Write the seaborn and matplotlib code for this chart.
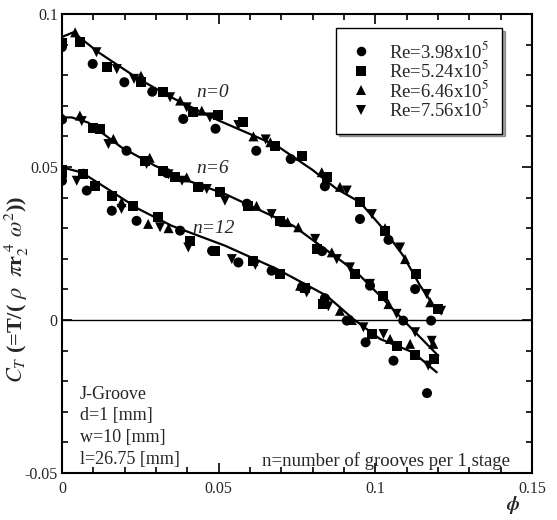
import matplotlib
matplotlib.use("Agg")
import matplotlib.pyplot as plt
import seaborn as sns
import pandas as pd
from matplotlib.ticker import MultipleLocator, FixedLocator, FuncFormatter

# ---- measured thrust coefficient, grouped by groove count n and Reynolds number ----
re_labels = ["Re=3.98x10$^5$", "Re=5.24x10$^5$", "Re=6.46x10$^5$", "Re=7.56x10$^5$"]

# n = 0
n0_re1_phi = [0.0, 0.0098, 0.0199, 0.0288, 0.0387, 0.0490, 0.0620, 0.0730, 0.0839, 0.0951, 0.1042, 0.1127, 0.1178]
n0_re1_ct = [0.0892, 0.0837, 0.0777, 0.0746, 0.0657, 0.0625, 0.0553, 0.0526, 0.0437, 0.0330, 0.0262, 0.0101, -0.0002]
n0_re2_phi = [0.0, 0.0057, 0.0143, 0.0252, 0.0323, 0.0419, 0.0499, 0.0579, 0.0680, 0.0765, 0.0845, 0.0951, 0.1031, 0.1130, 0.1199]
n0_re2_ct = [0.0905, 0.0907, 0.0826, 0.0777, 0.0746, 0.0679, 0.0670, 0.0646, 0.0570, 0.0535, 0.0466, 0.0385, 0.0292, 0.0150, 0.0036]
n0_re3_phi = [0.0, 0.0042, 0.0252, 0.0377, 0.0446, 0.0611, 0.0665, 0.0760, 0.0829, 0.0887, 0.1031, 0.1095, 0.1175]
n0_re3_ct = [0.0915, 0.0940, 0.0798, 0.0717, 0.0684, 0.0600, 0.0581, 0.0537, 0.0483, 0.0435, 0.0300, 0.0199, 0.0058]
n0_re4_phi = [0.0110, 0.0175, 0.0230, 0.0345, 0.0398, 0.0472, 0.0563, 0.0650, 0.0909, 0.0989, 0.1079, 0.1164, 0.1210]
n0_re4_ct = [0.0875, 0.0820, 0.0788, 0.0728, 0.0695, 0.0662, 0.0637, 0.0590, 0.0423, 0.0346, 0.0237, 0.0085, 0.0030]

# n = 6
n6_re1_phi = [0.0, 0.0206, 0.0335, 0.0440, 0.0590, 0.0700, 0.0830, 0.0983, 0.1089]
n6_re1_ct = [0.0655, 0.0553, 0.0480, 0.0435, 0.0380, 0.0320, 0.0225, 0.0112, -0.0002]
n6_re2_phi = [0.0100, 0.0121, 0.0265, 0.0323, 0.0361, 0.0435, 0.0504, 0.0595, 0.0696, 0.0813, 0.0935, 0.1026, 0.1187]
n6_re2_ct = [0.0629, 0.0624, 0.0521, 0.0488, 0.0466, 0.0433, 0.0417, 0.0373, 0.0325, 0.0232, 0.0150, 0.0079, -0.0127]
n6_re3_phi = [0.0, 0.0057, 0.0164, 0.0280, 0.0398, 0.0621, 0.0720, 0.0754, 0.0861, 0.1042, 0.1111, 0.1185]
n6_re3_ct = [0.0665, 0.0668, 0.0592, 0.0530, 0.0466, 0.0373, 0.0320, 0.0303, 0.0221, 0.0052, -0.0078, -0.0078]
n6_re4_phi = [0.0063, 0.0148, 0.0270, 0.0340, 0.0383, 0.0462, 0.0520, 0.0669, 0.0808, 0.0877, 0.0919, 0.0983, 0.1068, 0.1127, 0.1180]
n6_re4_ct = [0.0650, 0.0575, 0.0510, 0.0476, 0.0455, 0.0428, 0.0390, 0.0346, 0.0265, 0.0199, 0.0172, 0.0118, 0.0020, -0.0040, -0.0068]

# n = 12
n12_re1_phi = [0.0, 0.0, 0.0079, 0.0159, 0.0238, 0.0377, 0.0479, 0.0563, 0.0669, 0.0766, 0.0839, 0.0909, 0.0969, 0.1058, 0.1165]
n12_re1_ct = [0.0470, 0.0455, 0.0423, 0.0357, 0.0324, 0.0292, 0.0226, 0.0188, 0.0161, 0.0108, 0.0071, -0.0002, -0.0073, -0.0133, -0.0239]
n12_re2_phi = [0.0, 0.0068, 0.0105, 0.0159, 0.0228, 0.0307, 0.0409, 0.0488, 0.0611, 0.0696, 0.0776, 0.0834, 0.0989, 0.1068, 0.1127]
n12_re2_ct = [0.0490, 0.0477, 0.0439, 0.0406, 0.0373, 0.0335, 0.0259, 0.0226, 0.0194, 0.0150, 0.0105, 0.0052, -0.0046, -0.0084, -0.0114]
n12_re3_phi = [0.0068, 0.0190, 0.0275, 0.0340, 0.0611, 0.0760, 0.0887, 0.0925, 0.1047]
n12_re3_ct = [0.0480, 0.0385, 0.0314, 0.0300, 0.0194, 0.0112, 0.0030, 0.0000, -0.0062]
n12_re4_phi = [0.0047, 0.0190, 0.0313, 0.0403, 0.0542, 0.0617, 0.0781, 0.0850, 0.0962, 0.1026, 0.1169]
n12_re4_ct = [0.0455, 0.0363, 0.0303, 0.0237, 0.0199, 0.0180, 0.0090, 0.0045, -0.0024, -0.0046, -0.0149]

# ---- fitted curves through each groove set ----
fit_n0_phi = [0.0, 0.0036, 0.0116, 0.0244, 0.0360, 0.0500, 0.0685, 0.0800, 0.0877, 0.0951, 0.1026, 0.1089, 0.1143, 0.1201]
fit_n0_ct = [0.0925, 0.0940, 0.0875, 0.0788, 0.0722, 0.0652, 0.0570, 0.0490, 0.0428, 0.0385, 0.0297, 0.0210, 0.0112, 0.0025]
fit_n6_phi = [0.0, 0.0031, 0.0084, 0.0190, 0.0297, 0.0403, 0.0520, 0.0738, 0.0898, 0.0951, 0.1015, 0.1089, 0.1201]
fit_n6_ct = [0.0662, 0.0662, 0.0645, 0.0564, 0.0504, 0.0455, 0.0412, 0.0308, 0.0188, 0.0145, 0.0079, 0.0000, -0.0117]
fit_n12_phi = [0.0, 0.0063, 0.0137, 0.0244, 0.0350, 0.0520, 0.0685, 0.0845, 0.0930, 0.1015, 0.1121, 0.1196]
fit_n12_ct = [0.0499, 0.0482, 0.0434, 0.0363, 0.0308, 0.0243, 0.0167, 0.0079, 0.0003, -0.0062, -0.0106, -0.0171]

n_labels = ["n=0", "n=6", "n=12"]
n_label_phi = [0.0482, 0.0482, 0.0485]
n_label_ct = [0.0745, 0.0495, 0.0300]

x_ticks = [0, 0.05, 0.1, 0.15]
y_ticks = [-0.05, 0, 0.05, 0.1]

# ---- assemble long-form tables ----
groups = {
    "n=0": [(n0_re1_phi, n0_re1_ct), (n0_re2_phi, n0_re2_ct), (n0_re3_phi, n0_re3_ct), (n0_re4_phi, n0_re4_ct)],
    "n=6": [(n6_re1_phi, n6_re1_ct), (n6_re2_phi, n6_re2_ct), (n6_re3_phi, n6_re3_ct), (n6_re4_phi, n6_re4_ct)],
    "n=12": [(n12_re1_phi, n12_re1_ct), (n12_re2_phi, n12_re2_ct), (n12_re3_phi, n12_re3_ct), (n12_re4_phi, n12_re4_ct)],
}
rows = []
for n, series in groups.items():
    for label, (xs, ys) in zip(re_labels, series):
        rows += [{"phi": x, "ct": y, "Re": label, "n": n} for x, y in zip(xs, ys)]
points = pd.DataFrame(rows)

fit_rows = []
for n, (xs, ys) in zip(n_labels, [(fit_n0_phi, fit_n0_ct), (fit_n6_phi, fit_n6_ct), (fit_n12_phi, fit_n12_ct)]):
    fit_rows += [{"phi": x, "ct": y, "n": n} for x, y in zip(xs, ys)]
fits = pd.DataFrame(fit_rows)

# ---- styling ----
sns.set_theme(style="ticks")
plt.rcParams["font.family"] = ["Liberation Serif", "DejaVu Serif"]
plt.rcParams["mathtext.fontset"] = "stix"

fig = plt.figure(figsize=(5.57, 5.20), dpi=100)
ax = fig.add_axes([0.1113, 0.0904, 0.8438, 0.8827])

ax.axhline(0, color="black", lw=1.0, zorder=1)

sns.lineplot(data=fits, x="phi", y="ct", units="n", estimator=None, sort=False,
             color="black", lw=1.6, ax=ax, legend=False, zorder=2)

sns.scatterplot(data=points, x="phi", y="ct", style="Re", style_order=re_labels,
                markers=["o", "s", "^", "v"], color="black", s=52, edgecolor="black",
                linewidth=0, ax=ax, zorder=3)

ax.set_xlim(0, 0.15)
ax.set_ylim(-0.05, 0.1)
ax.xaxis.set_major_locator(FixedLocator(x_ticks))
ax.yaxis.set_major_locator(FixedLocator(y_ticks))
ax.xaxis.set_minor_locator(MultipleLocator(0.01))
ax.yaxis.set_minor_locator(MultipleLocator(0.01))
fmt = FuncFormatter(lambda v, p: "%g" % round(v, 4))
ax.xaxis.set_major_formatter(fmt)
ax.yaxis.set_major_formatter(fmt)
ax.tick_params(which="both", direction="in", top=True, right=True, color="black", width=1.2)
ax.tick_params(which="major", length=7, labelsize=11.5)
ax.tick_params(axis="x", which="major", pad=6)
ax.tick_params(axis="y", which="major", pad=3)
ax.tick_params(which="minor", length=4)
for sp in ax.spines.values():
    sp.set_linewidth(1.5)
    sp.set_color("black")

ax.set_xlabel("")
ax.set_ylabel(r"$\mathbf{\mathit{C_T}}$ (=T/( $\rho$  $\pi$r$_2^{\ 4}$ $\omega^2$))",
              fontsize=16, fontweight="bold")
ax.yaxis.set_label_coords(-0.066, 0.40)
ax.text(0.96, -0.07, r"$\boldsymbol{\phi}$", transform=ax.transAxes,
        ha="center", va="center", fontsize=14)

for lab, x, y in zip(n_labels, n_label_phi, n_label_ct):
    ax.text(x, y, lab, ha="center", va="center", fontsize=14, style="italic")

ax.text(0.038, 0.19, "J-Groove\nd=1 [mm]\nw=10 [mm]\nl=26.75 [mm]", transform=ax.transAxes,
        ha="left", va="top", fontsize=13, linespacing=1.36)
ax.text(0.953, 0.026, "n=number of grooves per 1 stage", transform=ax.transAxes,
        ha="right", va="center", fontsize=13.5)

leg = ax.legend(loc="upper right", bbox_to_anchor=(0.937, 0.97), frameon=True, shadow=True,
                fancybox=False, fontsize=13.5, handletextpad=0.9, labelspacing=-0.08,
                borderpad=0.7, markerscale=0.95, handlelength=1.2, borderaxespad=0)
leg.get_frame().set_edgecolor("black")
leg.get_frame().set_linewidth(1.0)

fig.savefig("out.png", dpi=100)
